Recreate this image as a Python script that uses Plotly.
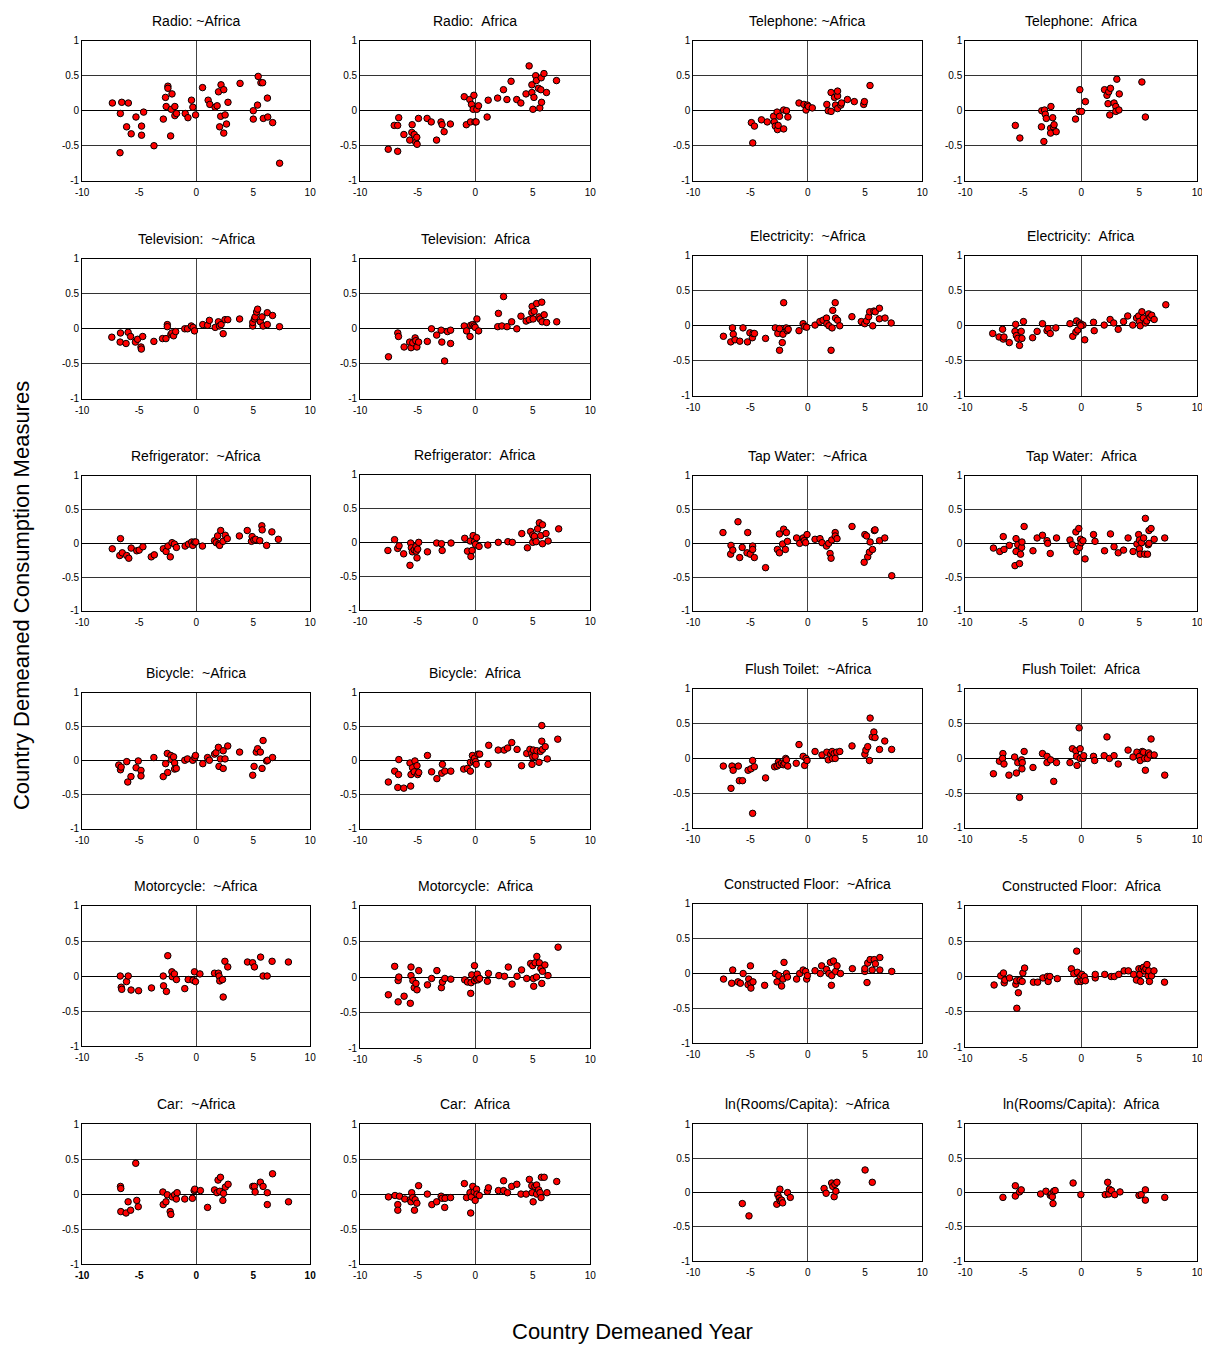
import plotly.graph_objects as go

# The page body adds an 8px margin around the figure (top/left); the figure runs to the window edge.
PAGE_W, PAGE_H = 1210, 1348
OFF = 8
W, H = PAGE_W - OFF, PAGE_H - OFF

# ------------------------------------------------------------------ data
# (country demeaned year, country demeaned consumption measure) per panel
RADIO_NOT_AFRICA = [(-7.35,0.11),(-6.53,0.12),(-5.95,0.11),(-6.65,-0.04),(-5.28,-0.09),(-4.61,-0.02),(-6.1,-0.23),(-5.7,-0.33),(-4.79,-0.22),(-4.79,-0.35),(-6.68,-0.60),(-3.70,-0.50),(-2.88,-0.12),(-2.69,0.19),(-2.63,0.06),(-2.48,0.35),(-2.48,0.32),(-2.12,0.24),(-2.18,0.02),(-2.24,-0.36),(-1.87,0.06),(-1.87,-0.07),(-1.72,-0.04),(-0.96,-0.04),(-0.72,-0.10),(-0.41,0.15),(-0.29,0.05),(-0.05,-0.06),(0.56,0.33),(1.05,0.15),(1.20,0.09),(1.66,0.05),(1.84,0.07),(1.96,0.27),(2.18,0.37),(2.42,0.30),(2.15,-0.08),(2.54,-0.06),(2.06,-0.23),(2.42,-0.32),(2.66,-0.19),(2.79,0.12),(3.85,0.39),(5.01,0.00),(5.01,-0.12),(5.38,0.08),(5.44,0.49),(5.68,0.40),(5.83,0.40),(5.89,-0.11),(6.25,0.18),(6.28,-0.09),(6.71,-0.17),(7.32,-0.75)]
RADIO_AFRICA = [(-7.56,-0.55),(-6.74,-0.58),(-7.04,-0.21),(-6.74,-0.21),(-6.65,-0.10),(-6.20,-0.34),(-5.69,-0.42),(-5.51,-0.31),(-5.48,-0.20),(-5.30,-0.34),(-5.17,-0.45),(-5.08,-0.38),(-5.05,-0.48),(-4.93,-0.11),(-4.18,-0.11),(-3.82,-0.16),(-3.36,-0.42),(-2.97,-0.16),(-2.88,-0.20),(-2.70,-0.30),(-2.16,-0.19),(-0.95,0.20),(-0.77,-0.20),(-0.47,0.16),(-0.41,-0.16),(-0.32,0.09),(-0.17,0.02),(-0.11,0.22),(-0.02,-0.16),(0.08,-0.16),(0.14,0.02),(0.29,0.07),(1.04,-0.09),(1.13,0.15),(1.95,0.18),(2.46,0.30),(2.76,0.16),(3.12,0.42),(3.61,0.16),(3.97,0.11),(4.42,0.24),(4.69,0.64),(4.93,0.37),(4.93,0.26),(5.02,0.02),(5.11,0.19),(5.26,0.50),(5.32,0.43),(5.50,0.32),(5.62,0.04),(5.74,0.47),(5.71,0.30),(5.77,0.12),(5.98,0.53),(6.20,0.26),(7.07,0.43)]
TELEPHONE_NOT_AFRICA = [(-4.92,-0.17),(-4.65,-0.22),(-4.80,-0.46),(-4.04,-0.13),(-3.53,-0.16),(-2.98,-0.08),(-2.92,-0.16),(-2.83,-0.22),(-2.67,-0.02),(-2.64,-0.27),(-2.58,-0.21),(-2.46,-0.08),(-2.10,0.01),(-2.10,-0.26),(-1.85,0.00),(-1.73,-0.09),(-0.76,0.11),(-0.33,0.09),(-0.15,0.01),(-0.03,0.08),(0.06,0.06),(0.40,0.04),(1.67,0.09),(1.79,0.00),(2.04,0.26),(2.04,-0.01),(2.34,0.19),(2.43,0.08),(2.61,0.21),(2.61,0.28),(2.61,0.03),(2.89,0.08),(2.95,0.11),(3.47,0.16),(4.07,0.13),(4.89,0.09),(4.95,0.13),(5.44,0.36)]
TELEPHONE_AFRICA = [(-5.68,-0.21),(-5.29,-0.39),(-3.43,-0.23),(-3.40,0.00),(-3.16,0.01),(-3.10,-0.05),(-3.01,-0.11),(-3.22,-0.44),(-2.64,-0.25),(-2.61,0.06),(-2.64,-0.32),(-2.46,-0.10),(-2.40,-0.23),(-2.34,-0.20),(-2.16,-0.30),(-0.49,-0.12),(-0.18,-0.01),(-0.12,0.30),(0.03,-0.01),(0.36,0.13),(2.01,0.30),(2.22,0.22),(2.31,0.10),(2.37,0.27),(2.52,0.32),(2.46,-0.06),(2.83,0.11),(2.98,0.06),(2.98,-0.01),(3.07,0.45),(3.25,0.01),(3.28,0.24),(5.23,0.41),(5.53,-0.09)]
TELEVISION_NOT_AFRICA = [(-7.40,-0.12),(-6.67,-0.19),(-6.64,-0.06),(-6.15,-0.21),(-5.97,-0.05),(-5.75,-0.11),(-5.33,-0.19),(-5.14,-0.15),(-4.84,-0.26),(-4.81,-0.29),(-4.69,-0.11),(-3.71,-0.18),(-2.95,-0.14),(-2.65,-0.14),(-2.53,0.06),(-2.53,0.03),(-2.22,-0.08),(-2.13,-0.06),(-1.98,-0.10),(-1.80,-0.04),(-1.00,0.00),(-0.76,0.00),(-0.43,0.04),(-0.27,0.02),(-0.15,-0.03),(0.58,0.06),(1.00,0.05),(1.16,0.12),(1.67,0.02),(1.95,0.10),(2.04,0.04),(2.19,0.06),(2.37,-0.07),(2.53,0.13),(2.77,0.13),(3.81,0.14),(4.96,0.04),(4.96,0.09),(5.11,0.14),(5.17,0.17),(5.30,0.24),(5.39,0.28),(5.63,0.10),(5.78,0.17),(5.87,0.04),(6.24,0.06),(6.24,0.23),(6.70,0.19),(7.31,0.03)]
TELEVISION_AFRICA = [(-7.54,-0.40),(-6.73,-0.06),(-6.67,-0.11),(-6.18,-0.26),(-5.70,-0.19),(-5.58,-0.27),(-5.43,-0.20),(-5.22,-0.13),(-5.16,-0.17),(-5.07,-0.26),(-4.92,-0.19),(-4.16,-0.18),(-3.80,0.00),(-3.35,-0.09),(-2.96,-0.02),(-2.90,-0.19),(-2.66,-0.46),(-2.41,-0.04),(-2.14,-0.02),(-2.14,-0.21),(-0.95,0.04),(-0.75,-0.03),(-0.45,-0.11),(-0.39,0.05),(-0.21,0.06),(-0.09,0.04),(0.00,0.02),(0.15,0.14),(0.30,-0.03),(2.02,0.22),(1.96,0.03),(2.32,0.04),(2.47,0.46),(2.77,0.03),(3.17,0.10),(3.62,0.00),(3.98,0.18),(4.43,0.11),(4.70,0.13),(4.92,0.23),(4.95,0.32),(5.04,0.14),(5.13,0.25),(5.34,0.36),(5.55,0.17),(5.64,0.14),(5.79,0.38),(5.82,0.10),(6.00,0.20),(6.21,0.09),(7.09,0.10)]
ELECTRICITY_NOT_AFRICA = [(-7.36,-0.15),(-6.72,-0.23),(-6.57,-0.03),(-6.50,-0.12),(-6.35,-0.20),(-5.93,-0.22),(-5.65,-0.03),(-5.26,-0.23),(-5.05,-0.10),(-4.83,-0.17),(-4.77,-0.11),(-4.65,-0.11),(-3.68,-0.18),(-2.83,-0.03),(-2.61,-0.11),(-2.46,-0.04),(-2.46,-0.35),(-2.22,-0.24),(-2.16,-0.12),(-2.10,0.33),(-1.88,-0.03),(-1.79,-0.07),(-1.70,-0.05),(-0.76,-0.07),(-0.40,0.03),(-0.27,-0.01),(-0.09,-0.02),(0.64,0.01),(1.06,0.06),(1.34,0.08),(1.64,0.11),(1.67,0.03),(1.85,0.00),(2.04,-0.35),(2.13,-0.03),(2.19,0.22),(2.40,0.33),(2.43,0.11),(2.61,0.08),(2.80,0.00),(3.86,0.13),(4.68,0.06),(4.98,0.03),(5.14,0.07),(5.32,0.13),(5.41,0.20),(5.68,0.00),(5.78,0.21),(5.90,0.20),(6.26,0.25),(6.26,0.10),(6.75,0.11),(7.29,0.04)]
ELECTRICITY_AFRICA = [(-7.63,-0.11),(-7.08,-0.16),(-6.78,-0.05),(-6.72,-0.19),(-6.66,-0.16),(-6.20,-0.24),(-5.65,0.02),(-5.71,-0.08),(-5.59,-0.14),(-5.47,-0.18),(-5.32,-0.28),(-5.17,-0.08),(-5.11,-0.18),(-4.98,0.06),(-4.19,-0.17),(-3.80,-0.08),(-3.34,0.03),(-2.95,-0.07),(-2.86,-0.04),(-2.67,-0.11),(-2.19,-0.03),(-0.97,0.03),(-0.73,-0.15),(-0.46,-0.09),(-0.40,0.07),(-0.30,-0.06),(-0.15,0.04),(0.00,0.02),(0.15,0.01),(-0.03,0.00),(0.30,-0.20),(1.06,0.05),(1.12,-0.07),(1.98,0.01),(2.49,0.09),(2.80,0.04),(3.19,-0.05),(3.65,0.06),(4.01,0.14),(4.44,0.01),(4.77,0.11),(4.95,0.14),(5.02,0.06),(5.08,0.00),(5.23,0.20),(5.35,0.11),(5.53,0.04),(5.65,0.07),(5.81,0.17),(5.93,0.12),(6.08,0.15),(6.29,0.09),(7.29,0.30)]
REFRIGERATOR_NOT_AFRICA = [(-7.36,-0.08),(-6.64,0.07),(-6.70,-0.18),(-6.48,-0.14),(-6.09,-0.18),(-5.91,-0.22),(-5.70,-0.07),(-5.21,-0.11),(-5.00,-0.10),(-4.67,-0.05),(-3.94,-0.20),(-3.67,-0.17),(-2.88,-0.08),(-2.64,-0.12),(-2.48,-0.04),(-2.27,-0.20),(-2.12,0.01),(-1.91,-0.01),(-1.73,-0.06),(-0.97,-0.04),(-0.67,-0.01),(-0.39,0.02),(-0.30,-0.03),(-0.15,0.02),(-0.03,0.02),(0.55,-0.04),(1.61,0.04),(1.76,0.01),(1.88,0.11),(2.00,-0.01),(2.06,-0.03),(2.15,0.19),(2.36,0.03),(2.55,0.12),(2.73,0.07),(3.79,0.11),(4.48,0.19),(4.85,0.03),(4.91,0.10),(5.06,0.05),(5.21,0.06),(5.58,0.04),(5.76,0.26),(5.79,0.20),(6.18,-0.03),(6.64,0.17),(7.21,0.06)]
REFRIGERATOR_AFRICA = [(-7.59,-0.12),(-7.01,0.04),(-6.74,-0.09),(-6.62,-0.05),(-6.22,-0.17),(-5.67,-0.34),(-5.61,-0.01),(-5.55,-0.08),(-5.46,-0.14),(-5.30,-0.11),(-5.15,-0.06),(-5.12,-0.13),(-5.06,-0.23),(-5.00,-0.10),(-4.91,0.00),(-4.15,-0.14),(-3.35,-0.01),(-2.93,-0.02),(-2.87,-0.12),(-2.10,-0.01),(-0.91,0.06),(-0.67,-0.13),(-0.43,0.02),(-0.37,-0.21),(-0.27,-0.12),(-0.18,0.10),(-0.06,0.01),(0.03,-0.03),(0.12,0.07),(0.34,-0.06),(1.10,-0.04),(2.01,0.00),(2.84,0.01),(3.23,0.00),(4.05,0.13),(4.54,-0.08),(4.82,0.16),(5.00,0.11),(5.00,0.00),(5.12,0.07),(5.15,0.09),(5.30,0.01),(5.43,0.20),(5.58,0.29),(5.70,0.10),(5.85,0.26),(5.85,-0.02),(6.16,0.13),(6.34,0.02),(7.26,0.20)]
TAP_WATER_NOT_AFRICA = [(-7.40,0.16),(-6.70,-0.03),(-6.73,-0.16),(-6.54,-0.10),(-6.09,0.32),(-5.94,-0.21),(-5.72,-0.06),(-5.24,0.16),(-5.30,-0.14),(-5.02,-0.16),(-4.81,-0.04),(-4.81,-0.09),(-4.66,-0.21),(-3.68,-0.36),(-2.65,-0.09),(-2.47,0.14),(-2.47,-0.14),(-2.19,-0.01),(-2.10,0.21),(-1.95,-0.09),(-1.86,0.16),(-1.77,0.03),(-0.97,0.08),(-0.70,0.00),(-0.40,0.08),(-0.30,0.04),(-0.18,0.01),(-0.06,0.13),(0.64,0.06),(1.07,0.07),(1.25,0.01),(1.64,-0.04),(1.83,0.00),(1.95,-0.15),(2.04,-0.22),(2.10,0.05),(2.40,0.16),(2.40,0.11),(2.56,0.07),(3.87,0.25),(4.93,-0.28),(4.99,0.13),(5.14,0.11),(5.24,-0.20),(5.39,-0.13),(5.45,0.02),(5.66,-0.09),(5.82,0.19),(5.88,0.20),(6.27,0.04),(6.73,0.08),(7.34,-0.48)]
TAP_WATER_AFRICA = [(-7.57,-0.07),(-7.02,-0.12),(-6.72,0.10),(-6.66,-0.09),(-6.20,-0.03),(-5.71,-0.33),(-5.62,0.07),(-5.62,-0.12),(-5.47,-0.02),(-5.32,-0.30),(-5.23,-0.16),(-5.14,-0.06),(-5.11,0.02),(-4.92,0.25),(-4.16,-0.11),(-3.80,0.08),(-3.34,0.12),(-2.95,0.04),(-2.89,0.00),(-2.67,-0.15),(-2.13,0.08),(-0.97,0.05),(-0.76,-0.02),(-0.46,0.17),(-0.40,-0.12),(-0.21,0.22),(-0.15,-0.06),(-0.06,0.06),(0.00,0.01),(0.15,0.04),(0.33,-0.23),(1.06,0.13),(1.19,0.03),(2.01,-0.11),(2.52,0.14),(2.83,-0.05),(3.19,-0.14),(3.65,-0.10),(4.04,0.08),(4.47,-0.12),(4.80,-0.01),(4.95,0.13),(5.02,0.05),(5.02,-0.08),(5.08,-0.16),(5.20,0.01),(5.38,0.08),(5.47,-0.16),(5.53,0.37),(5.71,-0.16),(5.78,-0.02),(5.84,0.00),(5.84,0.19),(6.02,0.22),(6.29,0.06),(7.20,0.08)]
BICYCLE_NOT_AFRICA = [(-6.79,-0.06),(-6.64,-0.13),(-6.58,-0.09),(-6.09,-0.01),(-6.00,-0.31),(-5.72,-0.23),(-5.27,-0.10),(-5.08,0.00),(-4.84,-0.14),(-4.84,-0.22),(-3.71,0.05),(-2.89,-0.23),(-2.68,-0.04),(-2.53,0.11),(-2.50,-0.17),(-2.22,0.08),(-2.16,0.02),(-1.98,0.06),(-1.89,-0.03),(-1.89,-0.12),(-1.74,-0.11),(-1.00,0.01),(-0.76,0.03),(-0.30,0.01),(-0.12,0.05),(-0.06,0.08),(0.58,-0.04),(1.00,0.05),(1.16,0.01),(1.61,0.10),(1.74,0.12),(1.95,0.20),(2.00,-0.08),(2.13,0.03),(2.37,-0.11),(2.37,0.15),(2.53,0.03),(2.77,0.22),(3.81,0.13),(4.96,-0.21),(5.08,-0.08),(5.27,0.13),(5.39,0.18),(5.63,0.13),(5.78,-0.11),(5.87,0.30),(6.18,0.00),(6.27,0.01),(6.70,0.05)]
BICYCLE_AFRICA = [(-7.55,-0.31),(-7.00,-0.15),(-6.67,-0.20),(-6.73,-0.39),(-6.64,0.02),(-6.21,-0.40),(-5.61,-0.37),(-5.67,-0.03),(-5.58,-0.20),(-5.45,-0.10),(-5.30,-0.16),(-5.24,0.00),(-5.06,-0.07),(-5.00,-0.20),(-4.91,-0.17),(-4.15,0.08),(-3.79,-0.16),(-3.33,-0.26),(-2.91,-0.18),(-2.85,-0.05),(-2.64,-0.15),(-2.12,-0.15),(-1.00,-0.12),(-0.67,-0.11),(-0.42,-0.15),(-0.42,-0.02),(-0.24,0.08),(-0.15,-0.01),(-0.06,0.04),(0.03,-0.01),(0.09,-0.05),(0.24,0.10),(0.39,0.10),(1.12,-0.05),(1.18,0.23),(2.00,0.16),(2.52,0.16),(2.82,0.19),(3.18,0.27),(3.64,0.17),(4.03,-0.07),(4.48,0.11),(4.76,0.17),(4.91,0.11),(4.94,-0.05),(5.00,0.06),(5.06,0.16),(5.21,0.07),(5.36,0.15),(5.55,-0.02),(5.67,0.14),(5.79,0.29),(5.79,0.52),(5.85,0.17),(6.09,0.21),(6.27,0.03),(7.18,0.32)]
FLUSH_TOILET_NOT_AFRICA = [(-7.37,-0.11),(-6.61,-0.11),(-6.70,-0.43),(-6.51,-0.17),(-6.06,-0.11),(-5.97,-0.32),(-5.69,-0.32),(-5.21,-0.17),(-4.96,-0.15),(-4.81,-0.03),(-4.81,-0.79),(-4.66,-0.12),(-3.68,-0.28),(-2.89,-0.12),(-2.68,-0.11),(-2.56,-0.05),(-2.47,-0.09),(-2.28,-0.07),(-2.13,-0.09),(-2.01,-0.07),(-1.92,0.00),(-1.86,-0.02),(-1.74,-0.11),(-1.00,-0.07),(-0.76,0.20),(-0.40,0.03),(-0.27,-0.10),(-0.15,0.00),(-0.06,-0.03),(0.64,0.10),(1.25,0.05),(1.67,0.09),(1.80,-0.02),(2.01,0.06),(2.13,0.10),(2.16,0.00),(2.31,0.07),(2.40,0.00),(2.53,0.09),(2.80,0.10),(3.87,0.18),(4.99,0.06),(5.08,0.12),(5.24,0.17),(5.39,-0.03),(5.45,0.58),(5.63,0.31),(5.78,0.38),(5.88,0.30),(6.27,0.13),(6.73,0.25),(7.33,0.13)]
FLUSH_TOILET_AFRICA = [(-7.57,-0.22),(-7.05,-0.04),(-6.75,0.07),(-6.78,0.00),(-6.66,-0.08),(-6.23,-0.24),(-5.74,0.02),(-5.59,-0.21),(-5.47,-0.06),(-5.32,-0.56),(-5.14,-0.02),(-5.11,-0.15),(-5.08,-0.06),(-4.92,0.10),(-4.16,-0.13),(-3.34,0.07),(-2.95,0.03),(-2.95,-0.06),(-2.64,-0.02),(-2.37,-0.33),(-2.13,-0.06),(-0.97,-0.06),(-0.76,0.14),(-0.46,0.11),(-0.40,0.03),(-0.36,-0.10),(-0.18,0.44),(-0.09,0.14),(-0.09,0.00),(0.15,0.00),(0.21,0.04),(1.06,0.03),(1.16,-0.03),(1.98,0.04),(2.22,0.31),(2.43,0.00),(2.83,0.04),(3.19,-0.08),(4.04,0.12),(4.47,0.02),(4.80,0.09),(5.02,0.03),(5.08,-0.03),(5.26,0.10),(5.38,0.09),(5.47,0.00),(5.53,-0.17),(5.71,0.00),(5.81,0.08),(5.93,0.05),(6.02,0.28),(6.29,0.05),(7.20,-0.24)]
MOTORCYCLE_NOT_AFRICA = [(-6.66,0.00),(-6.57,-0.16),(-6.53,-0.19),(-6.11,-0.08),(-5.96,0.00),(-5.71,-0.20),(-5.05,-0.21),(-3.92,-0.17),(-2.89,0.00),(-2.86,-0.14),(-2.61,-0.22),(-2.49,0.29),(-2.13,0.06),(-2.10,-0.01),(-1.91,0.03),(-1.73,-0.05),(-1.00,-0.18),(-0.70,-0.05),(-0.27,-0.06),(-0.15,0.06),(-0.06,-0.08),(0.33,0.03),(1.61,0.04),(1.95,0.04),(2.01,0.00),(2.07,-0.07),(2.31,-0.05),(2.37,-0.30),(2.52,0.21),(2.77,0.13),(4.50,0.20),(4.95,0.19),(5.11,0.13),(5.65,0.27),(5.87,0.00),(6.23,0.00),(6.66,0.21),(8.09,0.20)]
MOTORCYCLE_AFRICA = [(-7.55,-0.25),(-7.00,0.15),(-6.70,-0.05),(-6.64,0.00),(-6.70,-0.35),(-6.18,-0.27),(-5.64,-0.37),(-5.58,0.14),(-5.58,0.02),(-5.42,-0.05),(-5.30,-0.15),(-5.15,-0.09),(-5.06,-0.18),(-4.91,0.09),(-4.15,-0.11),(-3.79,-0.02),(-3.33,0.09),(-2.94,-0.15),(-2.85,-0.07),(-2.64,-0.02),(-2.12,-0.03),(-0.91,-0.04),(-0.67,-0.07),(-0.39,-0.23),(-0.36,-0.08),(-0.30,0.03),(-0.06,0.16),(-0.06,-0.05),(0.09,-0.02),(0.18,0.04),(0.24,-0.04),(0.39,-0.02),(1.06,-0.06),(1.15,0.05),(2.06,0.02),(2.55,0.01),(2.88,0.14),(3.21,-0.10),(3.64,0.01),(4.03,0.10),(4.48,-0.02),(4.82,0.19),(5.00,0.16),(5.09,-0.13),(5.06,-0.02),(5.21,0.20),(5.36,0.29),(5.33,0.00),(5.58,0.20),(5.70,0.12),(5.79,-0.09),(5.85,0.08),(6.06,0.17),(6.33,0.02),(7.21,0.42)]
CONSTRUCTED_FLOOR_NOT_AFRICA = [(-7.35,-0.08),(-6.64,-0.14),(-6.55,0.05),(-6.09,-0.12),(-5.88,-0.14),(-5.64,0.00),(-5.15,-0.08),(-5.00,0.11),(-5.21,-0.16),(-4.96,-0.14),(-4.96,-0.21),(-4.78,-0.12),(-3.76,-0.17),(-2.83,0.00),(-2.68,-0.12),(-2.53,-0.03),(-2.28,-0.18),(-2.16,-0.08),(-2.07,0.16),(-1.86,0.00),(-1.77,-0.05),(-0.97,-0.08),(-0.70,0.00),(-0.40,0.05),(-0.18,0.03),(-0.09,-0.08),(-0.03,-0.03),(0.64,0.04),(1.10,0.00),(1.22,0.11),(1.64,0.06),(1.86,0.00),(1.98,0.16),(2.07,-0.17),(2.10,-0.03),(2.25,0.18),(2.44,0.03),(2.56,0.11),(2.86,0.00),(3.90,0.07),(4.99,0.03),(4.99,0.07),(5.18,-0.13),(5.24,0.15),(5.45,0.20),(5.63,0.05),(5.81,0.20),(5.91,0.14),(6.30,0.23),(6.30,0.05),(7.34,0.03)]
CONSTRUCTED_FLOOR_AFRICA = [(-7.51,-0.12),(-6.94,0.01),(-6.70,0.05),(-6.64,-0.09),(-6.58,-0.05),(-6.18,-0.02),(-5.64,-0.11),(-5.58,-0.06),(-5.42,-0.23),(-5.55,-0.45),(-5.27,-0.05),(-5.09,-0.07),(-5.03,0.05),(-4.88,0.12),(-4.12,-0.08),(-3.76,-0.08),(-3.30,-0.02),(-2.91,0.00),(-2.85,-0.07),(-2.70,0.00),(-2.06,-0.03),(-0.85,0.11),(-0.64,0.04),(-0.39,0.36),(-0.33,0.06),(-0.30,-0.07),(-0.09,0.00),(-0.03,-0.07),(0.06,0.03),(0.15,-0.05),(0.27,0.00),(0.36,-0.06),(1.21,-0.02),(1.21,0.03),(2.03,0.03),(2.58,0.00),(2.85,0.00),(3.24,0.03),(3.70,0.08),(4.06,0.08),(4.52,0.03),(4.76,-0.05),(4.97,0.11),(5.06,0.03),(5.12,-0.07),(5.21,0.11),(5.36,0.13),(5.45,0.08),(5.58,0.11),(5.67,0.17),(5.76,0.01),(5.82,0.08),(5.88,-0.07),(6.06,0.01),(6.27,0.08),(7.18,-0.08)]
CAR_NOT_AFRICA = [(-6.64,0.11),(-6.61,0.08),(-6.61,-0.25),(-6.15,-0.27),(-5.97,-0.11),(-5.75,-0.23),(-5.30,0.44),(-5.21,-0.09),(-5.08,-0.18),(-2.92,0.03),(-2.89,-0.15),(-2.65,-0.11),(-2.53,-0.01),(-2.28,-0.25),(-2.22,-0.29),(-2.10,-0.04),(-1.89,-0.01),(-1.74,-0.07),(-1.67,0.02),(-1.00,-0.07),(-0.33,-0.06),(-0.18,0.05),(-0.12,0.07),(0.37,0.05),(1.00,-0.19),(1.61,0.06),(1.83,0.02),(1.92,0.20),(2.07,0.04),(2.13,0.24),(2.34,-0.09),(2.40,0.01),(2.56,0.10),(2.80,0.14),(4.96,0.11),(5.11,0.11),(5.17,0.03),(5.63,0.17),(5.87,0.11),(6.24,0.02),(6.24,-0.15),(6.70,0.29),(8.10,-0.11)]
CAR_AFRICA = [(-7.54,-0.04),(-6.97,-0.02),(-6.73,-0.15),(-6.73,-0.23),(-6.58,-0.03),(-6.12,-0.07),(-5.64,-0.08),(-5.52,0.02),(-5.58,-0.11),(-5.43,-0.05),(-5.28,-0.23),(-5.22,-0.08),(-5.07,-0.13),(-4.92,0.12),(-4.16,0.00),(-3.77,-0.15),(-3.35,-0.11),(-2.96,-0.03),(-2.87,-0.06),(-2.65,-0.19),(-2.62,-0.06),(-2.14,-0.05),(-0.94,0.15),(-0.75,-0.05),(-0.45,0.02),(-0.39,-0.27),(-0.33,-0.04),(-0.21,0.11),(-0.09,0.03),(0.00,-0.09),(0.12,0.07),(0.15,0.00),(0.36,-0.02),(1.06,0.04),(1.15,0.09),(2.02,0.05),(2.47,0.19),(2.47,0.05),(2.81,0.02),(3.17,0.11),(3.62,0.14),(3.98,0.00),(4.43,0.00),(4.71,0.21),(4.92,0.12),(4.95,0.02),(5.04,-0.11),(5.19,0.11),(5.34,0.13),(5.34,0.00),(5.52,0.06),(5.64,0.02),(5.73,-0.05),(5.76,0.24),(6.00,0.24),(6.24,0.02),(7.09,0.18)]
ROOMS_NOT_AFRICA = [(-5.71,-0.16),(-5.13,-0.34),(-2.70,-0.17),(-2.61,-0.03),(-2.49,-0.08),(-2.43,0.05),(-2.40,-0.12),(-2.28,-0.11),(-2.19,-0.15),(-1.76,0.00),(-1.52,-0.07),(1.43,0.06),(1.61,-0.01),(2.09,0.14),(2.19,0.09),(2.31,-0.06),(2.37,0.12),(2.46,0.02),(2.55,0.15),(5.01,0.33),(5.64,0.15)]
ROOMS_AFRICA = [(-6.75,-0.07),(-5.68,0.10),(-5.68,-0.05),(-5.32,0.01),(-5.17,0.04),(-3.50,-0.02),(-3.04,0.02),(-2.67,-0.04),(-2.58,-0.02),(-2.49,-0.06),(-2.43,-0.16),(-2.37,0.02),(-2.25,0.03),(-0.70,0.14),(-0.03,-0.03),(2.07,-0.03),(2.28,0.15),(2.37,-0.02),(2.43,0.05),(2.61,0.03),(2.89,-0.03),(3.34,0.01),(4.98,-0.04),(5.17,-0.03),(5.53,0.04),(5.53,-0.11),(7.20,-0.07)]

X_TICKS = [-10, -5, 0, 5, 10]
X_TICK_LABELS = ["-10", "-5", "0", "5", "10"]
Y_TICKS = [-1, -0.5, 0, 0.5, 1]
Y_TICK_LABELS = ["-1", "-0.5", "0", "0.5", "1"]

NB = "\u00a0"
# (title, data, column, row)
PANELS = [
    ("Radio: ~Africa", RADIO_NOT_AFRICA, 0, 0),
    ("Radio: " + NB + "Africa", RADIO_AFRICA, 1, 0),
    ("Telephone: ~Africa", TELEPHONE_NOT_AFRICA, 2, 0),
    ("Telephone: " + NB + "Africa", TELEPHONE_AFRICA, 3, 0),
    ("Television: " + NB + "~Africa", TELEVISION_NOT_AFRICA, 0, 1),
    ("Television: " + NB + "Africa", TELEVISION_AFRICA, 1, 1),
    ("Electricity: " + NB + "~Africa", ELECTRICITY_NOT_AFRICA, 2, 1),
    ("Electricity: " + NB + "Africa", ELECTRICITY_AFRICA, 3, 1),
    ("Refrigerator: " + NB + "~Africa", REFRIGERATOR_NOT_AFRICA, 0, 2),
    ("Refrigerator: " + NB + "Africa", REFRIGERATOR_AFRICA, 1, 2),
    ("Tap Water: " + NB + "~Africa", TAP_WATER_NOT_AFRICA, 2, 2),
    ("Tap Water: " + NB + "Africa", TAP_WATER_AFRICA, 3, 2),
    ("Bicycle: " + NB + "~Africa", BICYCLE_NOT_AFRICA, 0, 3),
    ("Bicycle: " + NB + "Africa", BICYCLE_AFRICA, 1, 3),
    ("Flush Toilet: " + NB + "~Africa", FLUSH_TOILET_NOT_AFRICA, 2, 3),
    ("Flush Toilet: " + NB + "Africa", FLUSH_TOILET_AFRICA, 3, 3),
    ("Motorcycle: " + NB + "~Africa", MOTORCYCLE_NOT_AFRICA, 0, 4),
    ("Motorcycle: " + NB + "Africa", MOTORCYCLE_AFRICA, 1, 4),
    ("Constructed Floor: " + NB + "~Africa", CONSTRUCTED_FLOOR_NOT_AFRICA, 2, 4),
    ("Constructed Floor: " + NB + "Africa", CONSTRUCTED_FLOOR_AFRICA, 3, 4),
    ("Car: " + NB + "~Africa", CAR_NOT_AFRICA, 0, 5),
    ("Car: " + NB + "Africa", CAR_AFRICA, 1, 5),
    ("ln(Rooms/Capita): " + NB + "~Africa", ROOMS_NOT_AFRICA, 2, 5),
    ("ln(Rooms/Capita): " + NB + "Africa", ROOMS_AFRICA, 3, 5),
]

# ------------------------------------------------------------------ layout (page-pixel boxes)
COL_X = [(82, 310), (360, 590), (693, 922), (965, 1197)]
ROW_Y = {
    (0, 0): (40, 180), (1, 0): (40, 180), (2, 0): (40, 180), (3, 0): (40, 180),
    (0, 1): (258, 398), (1, 1): (258, 398), (2, 1): (255, 395), (3, 1): (255, 395),
    (0, 2): (475, 610), (1, 2): (474, 609), (2, 2): (475, 610), (3, 2): (475, 610),
    (0, 3): (692, 828), (1, 3): (692, 828), (2, 3): (688, 827), (3, 3): (688, 827),
    (0, 4): (905, 1045), (1, 4): (905, 1047), (2, 4): (903, 1042), (3, 4): (905, 1046),
    (0, 5): (1123, 1263), (1, 5): (1123, 1263), (2, 5): (1123, 1260), (3, 5): (1123, 1260),
}

# slight spread of the grid about its centre, so that it spans the page like the reference
CX, SX = 637, 1.011
CY, SY = 580, 1.0094


def px_x(p):
    p = CX + (p - CX) * SX
    return (p - OFF) / W


def px_y(p):
    p = CY + (p - CY) * SY
    return 1 - (p - OFF) / H


FONT = "Liberation Sans, Arial, sans-serif"

fig = go.Figure()
layout = dict(
    width=W, height=H,
    margin=dict(l=0, r=0, t=0, b=0),
    paper_bgcolor="white", plot_bgcolor="white",
    showlegend=False,
    font=dict(family=FONT, color="black"),
    annotations=[],
)

for i, (title, pts, col, row) in enumerate(PANELS):
    sfx = "" if i == 0 else str(i + 1)
    xs = [p[0] for p in pts]
    ys = [p[1] for p in pts]
    fig.add_trace(go.Scatter(
        x=xs, y=ys, mode="markers", xaxis="x" + sfx, yaxis="y" + sfx,
        marker=dict(color="#FF0000", size=6.5, line=dict(color="black", width=1)),
        hoverinfo="x+y",
    ))
    x0, x1 = COL_X[col]
    y0, y1 = ROW_Y[(col, row)]
    bold = (title.startswith("Car") and "~" in title)
    xt = ["<b>%s</b>" % t for t in X_TICK_LABELS] if bold else X_TICK_LABELS
    layout["xaxis" + sfx] = dict(
        domain=[px_x(x0), px_x(x1)], anchor="y" + sfx, range=[-10, 10],
        tickmode="array", tickvals=X_TICKS, ticktext=xt, ticks="",
        ticklabelstandoff=2,
        showgrid=False, zeroline=True, zerolinecolor="#444", zerolinewidth=1,
        showline=True, linecolor="black", linewidth=1, mirror=True,
        tickfont=dict(size=10, family=FONT, color="black"), fixedrange=True,
    )
    layout["yaxis" + sfx] = dict(
        domain=[px_y(y1), px_y(y0)], anchor="x" + sfx, range=[-1, 1],
        tickmode="array", tickvals=Y_TICKS, ticktext=Y_TICK_LABELS, ticks="",
        showgrid=True, gridcolor="#333", gridwidth=1,
        zeroline=True, zerolinecolor="black", zerolinewidth=1,
        showline=True, linecolor="black", linewidth=1, mirror=True,
        tickfont=dict(size=10, family=FONT, color="black"), fixedrange=True,
    )
    layout["annotations"].append(dict(
        text=title, x=px_x((x0 + x1) / 2), y=px_y(y0 - 20),
        xref="paper", yref="paper", xanchor="center", yanchor="middle",
        showarrow=False, font=dict(size=14, family=FONT, color="black"),
    ))

layout["annotations"].append(dict(
    text="Country Demeaned Year", x=px_x(632), y=1 - (1337 - OFF) / H,
    xref="paper", yref="paper", xanchor="center", yanchor="middle",
    showarrow=False, font=dict(size=22, family=FONT, color="black"),
))
layout["annotations"].append(dict(
    text="Country Demeaned Consumption Measures", x=px_x(22), y=px_y(595),
    xref="paper", yref="paper", xanchor="center", yanchor="middle", textangle=-90,
    showarrow=False, font=dict(size=22, family=FONT, color="black"),
))

fig.update_layout(**layout)
fig.write_html("out.html")
